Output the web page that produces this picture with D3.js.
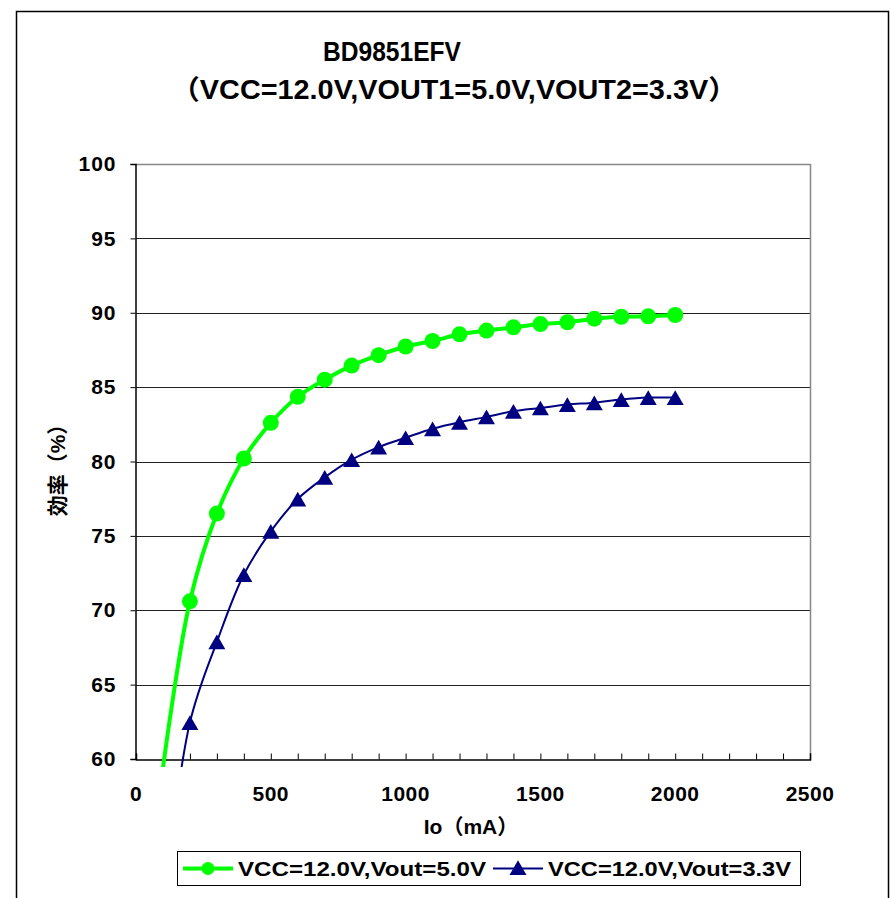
<!DOCTYPE html>
<html>
<head>
<meta charset="utf-8">
<script src="https://cdn.jsdelivr.net/npm/d3@7"></script>
<style>
  body { margin: 0; background: #fff; }
  svg text { font-family: "Liberation Sans", Arial, "Noto Sans CJK JP", sans-serif; fill: #000; }
</style>
</head>
<body>
<svg width="890" height="898"></svg>
<script>
// data
var io = [100, 200, 300, 400, 500, 600, 700, 800, 900, 1000, 1100, 1200, 1300, 1400, 1500, 1600, 1700, 1800, 1900, 2000];
var eff50 = [59.4, 70.6, 76.5, 80.2, 82.6, 84.35, 85.5, 86.45, 87.15, 87.73, 88.1, 88.55, 88.8, 89.02, 89.24, 89.36, 89.6, 89.73, 89.76, 89.85];
var eff33 = [50.0, 62.45, 67.87, 72.4, 75.3, 77.48, 78.93, 80.12, 80.97, 81.6, 82.2, 82.64, 83.0, 83.38, 83.6, 83.83, 83.95, 84.17, 84.3, 84.3];
var yTicks = [60, 65, 70, 75, 80, 85, 90, 95, 100];
var xTicks = [0, 500, 1000, 1500, 2000, 2500];
var seriesNames = ['VCC=12.0V,Vout=5.0V', 'VCC=12.0V,Vout=3.3V'];

var svg = d3.select('svg');

// outer frame
svg.append('rect').attr('x', 16.5).attr('y', 11.5).attr('width', 872).attr('height', 900)
  .attr('fill', 'none').attr('stroke', '#000').attr('stroke-width', 1.5);

var x = d3.scaleLinear().domain([0, 2500]).range([136, 810]);
var y = d3.scaleLinear().domain([60, 100]).range([759, 164]);

// gridlines
svg.append('g').selectAll('line').data(yTicks.filter(function(d){ return d > 60 && d < 100; }))
  .join('line')
  .attr('x1', x(0)).attr('x2', x(2500))
  .attr('y1', function(d){ return Math.round(y(d)) + 0.5; })
  .attr('y2', function(d){ return Math.round(y(d)) + 0.5; })
  .attr('stroke', '#222').attr('stroke-width', 1);

// plot border top / right
svg.append('line').attr('x1', x(0)).attr('x2', x(2500) + 0.5).attr('y1', 164.5).attr('y2', 164.5).attr('stroke', '#888').attr('stroke-width', 1.5);
svg.append('line').attr('x1', x(2500) + 0.5).attr('x2', x(2500) + 0.5).attr('y1', 164).attr('y2', 759.5).attr('stroke', '#888').attr('stroke-width', 1.5);

// y axis
var yAxis = svg.append('g').attr('transform', 'translate(' + (x(0) - 0.5) + ',0)')
  .call(d3.axisLeft(y).tickValues(yTicks).tickSize(5).tickPadding(14).tickFormat(d3.format('d')));
yAxis.select('.domain').attr('stroke', '#000').attr('stroke-width', 1.5);
yAxis.selectAll('.tick line').attr('stroke', '#000');
yAxis.selectAll('.tick text').attr('font-size', 21).attr('font-weight', 'bold').attr('letter-spacing', 1)
  .attr('font-family', '"Liberation Sans", Arial, sans-serif').attr('fill', '#000');

// x axis: minor ticks every 100 pointing inward
var minor = d3.range(0, 2501, 100);
var xAxis = svg.append('g').attr('transform', 'translate(0,' + (y(60) + 0.5) + ')')
  .call(d3.axisBottom(x).tickValues(minor).tickSize(-6).tickFormat(''));
xAxis.select('.domain').attr('stroke', '#000').attr('stroke-width', 1.5);
xAxis.selectAll('.tick line').attr('stroke', '#000');

svg.append('g').selectAll('text').data(xTicks).join('text')
  .attr('x', function(d){ return x(d); }).attr('y', 801)
  .attr('text-anchor', 'middle').attr('font-size', 21).attr('font-weight', 'bold').attr('letter-spacing', 0.5)
  .text(function(d){ return d; });

// series
svg.append('clipPath').attr('id', 'clip').append('rect')
  .attr('x', x(0)).attr('y', y(100)).attr('width', x(2500) - x(0)).attr('height', y(60) - y(100) + 8);

var line = d3.line().x(function(d){ return x(d[0]); }).y(function(d){ return y(d[1]); })
  .curve(d3.curveCatmullRom.alpha(0.5));

var s50 = io.map(function(d, i){ return [d, eff50[i]]; });
var s33 = io.map(function(d, i){ return [d, eff33[i]]; });

var plot = svg.append('g').attr('clip-path', 'url(#clip)');
plot.append('path').datum(s33).attr('d', line).attr('fill', 'none').attr('stroke', '#000080').attr('stroke-width', 2);
plot.append('path').datum(s50).attr('d', line).attr('fill', 'none').attr('stroke', '#00ff00').attr('stroke-width', 4);

var tri = d3.symbol().type(d3.symbolTriangle).size(125);
svg.append('g').selectAll('path').data(s33.filter(function(d){ return d[1] >= 60; })).join('path')
  .attr('d', tri)
  .attr('transform', function(d){ return 'translate(' + x(d[0]) + ',' + (y(d[1]) + 2.5) + ')'; })
  .attr('fill', '#000080');
svg.append('g').selectAll('circle').data(s50.filter(function(d){ return d[1] >= 60; })).join('circle')
  .attr('cx', function(d){ return x(d[0]); }).attr('cy', function(d){ return y(d[1]); })
  .attr('r', 8).attr('fill', '#00ff00');

// titles
svg.append('text').attr('x', 392).attr('y', 61).attr('text-anchor', 'middle')
  .attr('font-size', 27).attr('font-weight', 'bold').attr('textLength', 138).attr('lengthAdjust', 'spacingAndGlyphs')
  .text('BD9851EFV');
svg.append('text').attr('x', 454).attr('y', 99).attr('text-anchor', 'middle')
  .attr('font-size', 27).attr('font-weight', 'bold').attr('textLength', 566).attr('lengthAdjust', 'spacingAndGlyphs')
  .text('（VCC=12.0V,VOUT1=5.0V,VOUT2=3.3V）');

// axis titles
svg.append('text').attr('x', 471).attr('y', 834).attr('text-anchor', 'middle')
  .attr('font-size', 21).attr('font-weight', 'bold')
  .text('Io（mA）');
svg.append('text').attr('transform', 'translate(65,465) rotate(-90)').attr('text-anchor', 'middle')
  .attr('font-size', 21).attr('font-weight', 'bold')
  .text('効率（%）');

// legend
var lg = svg.append('g');
lg.append('rect').attr('x', 177.5).attr('y', 851.5).attr('width', 623).attr('height', 34)
  .attr('fill', '#fff').attr('stroke', '#000').attr('stroke-width', 1);
var lgItems = [
  {name: seriesNames[0], x0: 183, color: '#00ff00', w: 4, mark: 'circle', tx: 238, tl: 248},
  {name: seriesNames[1], x0: 493, color: '#000080', w: 2, mark: 'tri', tx: 548, tl: 243}
];
lgItems.forEach(function(it){
  lg.append('line').attr('x1', it.x0).attr('x2', it.x0 + 50).attr('y1', 868.5).attr('y2', 868.5)
    .attr('stroke', it.color).attr('stroke-width', it.w);
  if (it.mark === 'circle') {
    lg.append('circle').attr('cx', it.x0 + 25).attr('cy', 868.5).attr('r', 6.5).attr('fill', it.color);
  } else {
    lg.append('path').attr('d', tri).attr('transform', 'translate(' + (it.x0 + 25) + ',870)').attr('fill', it.color);
  }
  lg.append('text').attr('x', it.tx).attr('y', 876).attr('font-size', 21).attr('font-weight', 'bold')
    .attr('textLength', it.tl).attr('lengthAdjust', 'spacingAndGlyphs').text(it.name);
});
</script>
</body>
</html>
